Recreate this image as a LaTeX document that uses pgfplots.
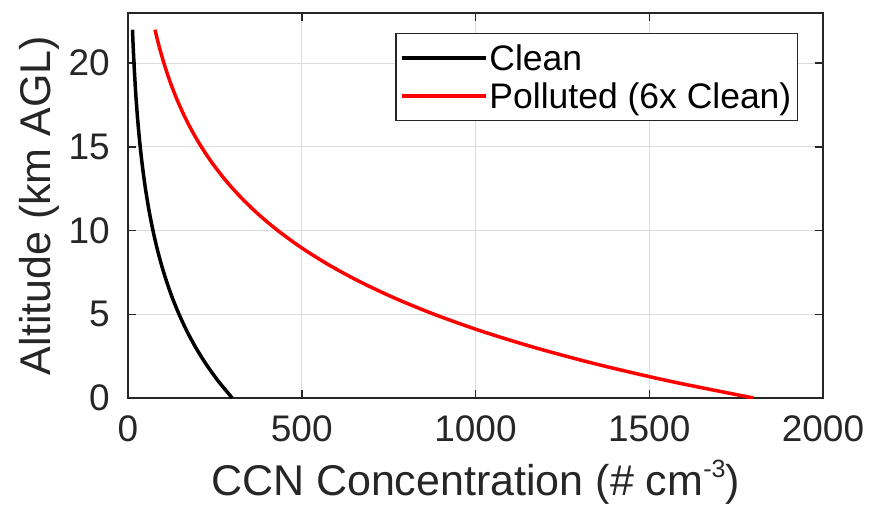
\documentclass[border=0pt]{standalone}
\usepackage{fontspec}
\setmainfont{Liberation Sans}
\usepackage{pgfplots}
\usepackage{pgfplotstable}
\pgfplotsset{compat=1.18}
\definecolor{axgray}{HTML}{262626}
\definecolor{gridgray}{HTML}{DCDCDC}
\pgfplotstableread{
z N
0 300.0
1 260.1
2 225.4
3 195.4
4 169.4
5 146.9
6 127.3
7 110.4
8 95.7
9 82.9
10 71.9
11 62.3
12 54.0
13 46.8
14 40.6
15 35.2
16 30.5
17 26.4
18 22.9
19 19.9
20 17.2
21 14.9
22 12.9
}\clean
\pgfplotstableread{
z N
0 1800.0
1 1560.4
2 1352.7
3 1172.6
4 1016.5
5 881.2
6 763.9
7 662.2
8 574.0
9 497.6
10 431.4
11 373.9
12 324.2
13 281.0
14 243.6
15 211.2
16 183.1
17 158.7
18 137.6
19 119.3
20 103.4
21 89.6
22 77.7
}\polluted
\begin{document}
\begin{tikzpicture}
\begin{axis}[
  name=ax,
  scale only axis, width=695bp, height=385bp,
  xmin=0, xmax=2000, ymin=0, ymax=23,
  xtick={0,500,1000,1500,2000}, ytick={0,5,10,15,20},
  xtick pos=both, ytick pos=both,
  xticklabel pos=lower, yticklabel pos=left,
  tick align=inside, major tick length=8bp,
  grid=major, major grid style={gridgray, line width=1bp},
  axis line style={axgray, line width=1.5bp},
  every tick/.style={axgray, line width=1.5bp},
  /pgf/number format/assume math mode=true,
  /pgf/number format/1000 sep={},
  tick label style={font=\fontsize{37bp}{40bp}\selectfont, text=axgray},
  xticklabel style={inner sep=0pt, yshift=-17bp},
  yticklabel style={inner sep=0pt, xshift=-18bp},
  xlabel={CCN Concentration (\# cm\raisebox{0.42em}{\fontsize{25bp}{25bp}\selectfont -3})},
  ylabel={Altitude (km AGL)},
  every axis x label/.style={at={(axis description cs:0.5,-0.2545)}, anchor=base, font=\fontsize{43bp}{46bp}\selectfont, text=axgray},
  every axis y label/.style={at={(axis description cs:-0.1122,0.5)}, rotate=90, anchor=base, font=\fontsize{43bp}{46bp}\selectfont, text=axgray},
  legend cell align=left,
  legend image code/.code={\path (-6bp,0bp) -- (78bp,0bp); \draw[#1] (0bp,0bp) -- (78bp,0bp);},
  legend style={at={(axis description cs:0.9640,0.9481)}, anchor=north east,
    draw=axgray, line width=1.2bp, fill=white,
    font=\fontsize{35.5bp}{38bp}\selectfont,
    inner xsep=4bp, inner ysep=9bp, row sep=6.5bp,
    nodes={inner sep=2bp, text=black},
    /tikz/every even column/.append style={column sep=4bp}},
]
\addplot[black, line width=3.5bp, smooth] table[x=N, y=z] {\clean};
\addlegendentry{Clean}
\addplot[red, line width=3.5bp, smooth] table[x=N, y=z] {\polluted};
\addlegendentry{Polluted (6x Clean)}
\end{axis}
\pgfresetboundingbox
\path[use as bounding box] ([shift={(-128bp,-108bp)}]ax.south west) rectangle ([shift={(59bp,13bp)}]ax.north east);
\end{tikzpicture}
\end{document}
